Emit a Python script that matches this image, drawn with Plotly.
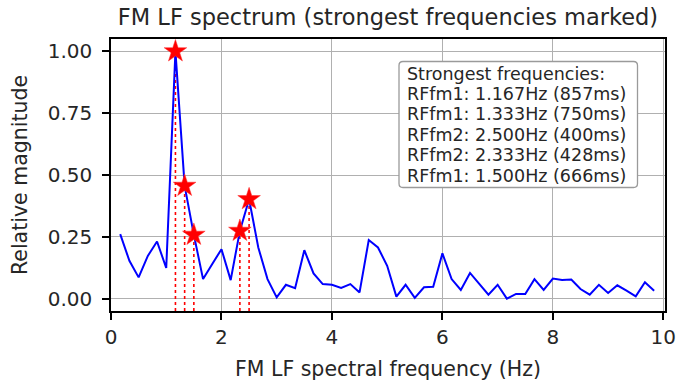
import plotly.graph_objects as go

# Spectrum bins (Hz): k/6 for k = 1..59
freqs = [k / 6 for k in range(1, 60)]
magnitude = [
    0.261, 0.153, 0.086, 0.173, 0.231, 0.124, 1.000, 0.456, 0.258, 0.079,
    0.140, 0.200, 0.075, 0.274, 0.402, 0.207, 0.079, 0.005, 0.056, 0.042,
    0.196, 0.102, 0.059, 0.056, 0.043, 0.059, 0.025, 0.237, 0.207, 0.133,
    0.008, 0.056, 0.003, 0.046, 0.048, 0.183, 0.079, 0.035, 0.104, 0.059,
    0.016, 0.056, 0.000, 0.019, 0.019, 0.079, 0.035, 0.081, 0.075, 0.077,
    0.039, 0.016, 0.056, 0.023, 0.054, 0.032, 0.009, 0.066, 0.032,
]

# Strongest peaks (bin index into freqs) with their labels
peak_idx = [6, 7, 14, 13, 8]
peak_labels = ["RFfm1", "RFfm1", "RFfm2", "RFfm2", "RFfm1"]
peak_periods_ms = [857, 750, 400, 428, 666]

y_min, y_max = -0.05, 1.05
x_min, x_max = 0, 10.03

FONT = "DejaVu Sans"
TXT = "#262626"

# plot area in pixels (figure is 678 x 382)
PL, PR, PT, PB = 111, 665, 39, 311
PW, PH = PR - PL, PB - PT


def px_x(v):
    return (v - PL) / PW


def px_y(v):
    return (PB - v) / PH


peak_x = [freqs[i] for i in peak_idx]
peak_y = [magnitude[i] for i in peak_idx]

fig = go.Figure()

# dotted drop lines from the axis floor to each marked peak
for px, py in zip(peak_x, peak_y):
    fig.add_trace(go.Scatter(
        x=[px, px], y=[y_min, py], mode="lines",
        line=dict(color="red", width=1.6, dash="dot"),
        showlegend=False, hoverinfo="skip",
    ))

fig.add_trace(go.Scatter(
    x=freqs, y=magnitude, mode="lines",
    line=dict(color="#0000ff", width=2),
    showlegend=False,
))

fig.add_trace(go.Scatter(
    x=peak_x, y=peak_y, mode="markers",
    marker=dict(symbol="star", size=17, color="red",
                line=dict(color="#ff3030", width=0.5)),
    showlegend=False,
))

# info box listing the strongest frequencies
box_lines = ["Strongest frequencies:"] + [
    f"{lab}: {freqs[i]:.3f}Hz ({ms}ms)"
    for lab, i, ms in zip(peak_labels, peak_idx, peak_periods_ms)
]

line_top, line_step = 73.5, 20.4
box_top = 61.5
box_bottom = line_top + line_step * (len(box_lines) - 1) + 12

bx0, bx1 = px_x(399), px_x(637.5)
by0, by1 = px_y(box_bottom), px_y(box_top)
rx, ry = 4 / PW, 4 / PH
box_path = (
    f"M {bx0 + rx},{by0} L {bx1 - rx},{by0} Q {bx1},{by0} {bx1},{by0 + ry} "
    f"L {bx1},{by1 - ry} Q {bx1},{by1} {bx1 - rx},{by1} "
    f"L {bx0 + rx},{by1} Q {bx0},{by1} {bx0},{by1 - ry} "
    f"L {bx0},{by0 + ry} Q {bx0},{by0} {bx0 + rx},{by0} Z"
)
fig.add_shape(type="path", path=box_path, xref="paper", yref="paper",
              fillcolor="white", line=dict(color="#9a9a9a", width=1.3),
              layer="above")

for n, txt in enumerate(box_lines):
    fig.add_annotation(
        xref="paper", yref="paper", x=px_x(405.5),
        y=px_y(line_top + n * line_step),
        xanchor="left", yanchor="middle", align="left", showarrow=False,
        borderpad=0, text=txt, font=dict(family=FONT, size=17.5, color=TXT),
    )

axis_common = dict(
    showline=True, linecolor="black", linewidth=1.6, mirror=True,
    ticks="outside", ticklen=7, tickwidth=1.5, tickcolor="black",
    showgrid=True, gridcolor="#b0b0b0", gridwidth=1.3, zeroline=False,
    tickfont=dict(family=FONT, size=20, color=TXT), automargin=False,
)

fig.update_xaxes(
    range=[x_min, x_max], tickmode="array", tickvals=[0, 2, 4, 6, 8, 10],
    title=dict(text="FM LF spectral frequency (Hz)", standoff=14,
               font=dict(family=FONT, size=20.5, color=TXT)),
    **axis_common,
)
fig.update_yaxes(
    range=[y_min, y_max], tickmode="array",
    tickvals=[0, 0.25, 0.5, 0.75, 1.0], tickformat=".2f",
    ticklabelstandoff=6,
    title=dict(text="Relative magnitude", standoff=14,
               font=dict(family=FONT, size=20.5, color=TXT)),
    **axis_common,
)

fig.update_layout(
    width=678, height=382,
    margin=dict(l=PL, r=678 - PR, t=PT, b=382 - PB),
    paper_bgcolor="white", plot_bgcolor="white",
    title=dict(text="FM LF spectrum (strongest frequencies marked)",
               x=0.5, xref="paper", y=1 - 17 / 382, yref="container",
               yanchor="middle",
               font=dict(family=FONT, size=22.5, color=TXT)),
)

fig.write_html("out.html")
